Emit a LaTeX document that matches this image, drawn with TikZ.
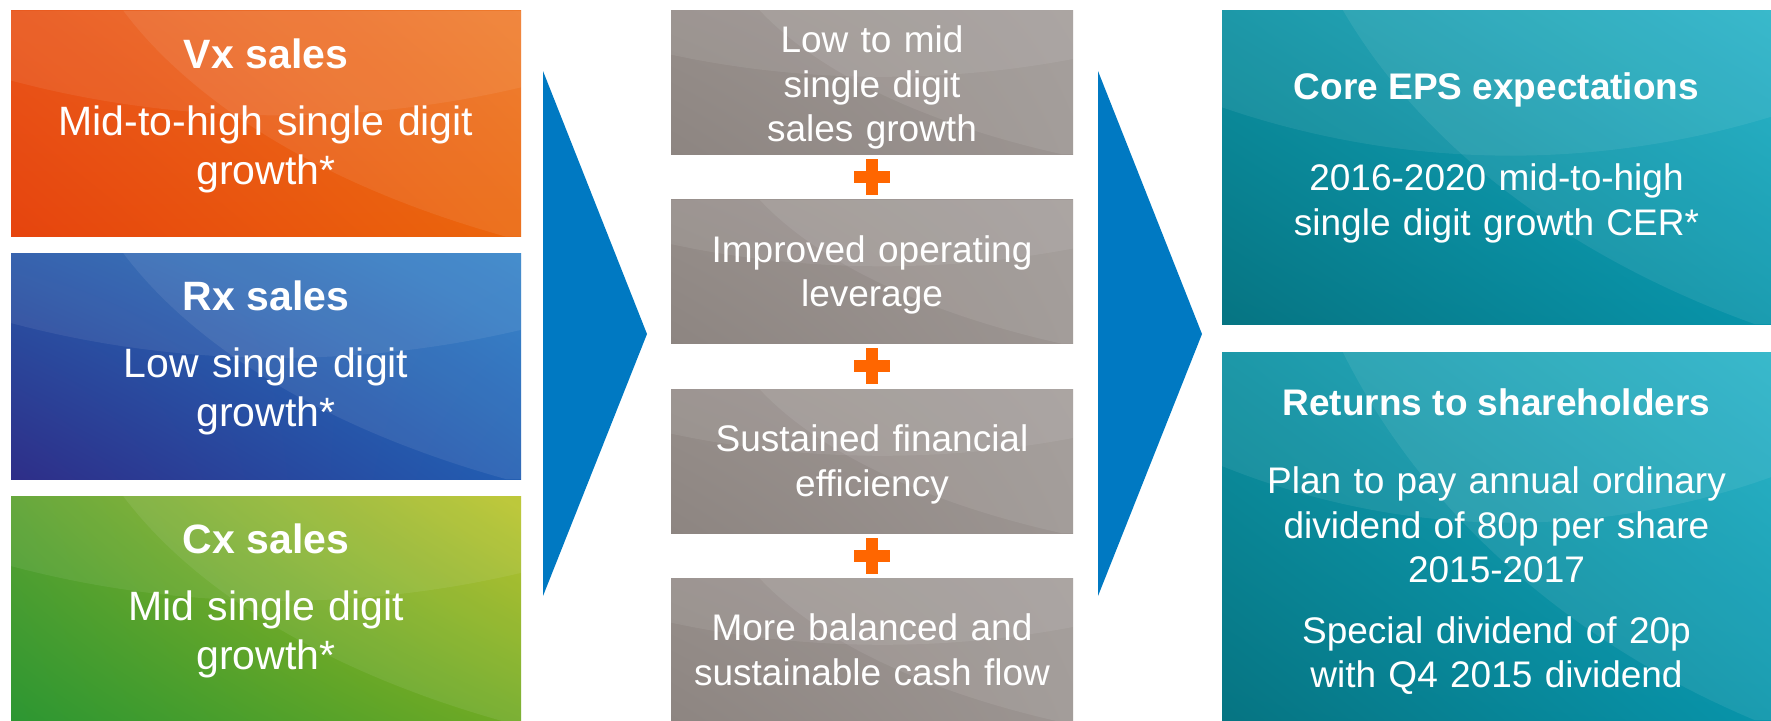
\documentclass[tikz,border=0pt]{standalone}
\usepackage{fontspec}
\setmainfont{Liberation Sans}
\definecolor{arrowblue}{RGB}{0, 121, 194}
\definecolor{plusorange}{RGB}{255, 102, 0}
\definecolor{vxul}{RGB}{233, 86, 26}
\definecolor{vxur}{RGB}{238, 116, 32}
\definecolor{vxll}{RGB}{230, 68, 14}
\definecolor{vxlr}{RGB}{235, 102, 12}
\definecolor{rxul}{RGB}{40, 88, 168}
\definecolor{rxur}{RGB}{38, 124, 198}
\definecolor{rxll}{RGB}{46, 46, 136}
\definecolor{rxlr}{RGB}{34, 94, 178}
\definecolor{cxul}{RGB}{92, 162, 48}
\definecolor{cxur}{RGB}{182, 192, 28}
\definecolor{cxll}{RGB}{44, 150, 50}
\definecolor{cxlr}{RGB}{112, 170, 36}
\definecolor{mgul}{RGB}{150, 142, 138}
\definecolor{mgur}{RGB}{158, 151, 148}
\definecolor{mgll}{RGB}{141, 133, 129}
\definecolor{mglr}{RGB}{156, 149, 146}
\definecolor{tlul}{RGB}{12, 145, 162}
\definecolor{tlur}{RGB}{24, 174, 196}
\definecolor{tlll}{RGB}{6, 116, 130}
\definecolor{tllr}{RGB}{8, 148, 170}
\usetikzlibrary{calc, shadings}
\tikzset{
    swoosh/.style={path picture={
        \fill[white, opacity=.08] let \p1 = (path picture bounding box.south west),
            \p2 = (path picture bounding box.north east),
            \n1 = {\x2 - \x1}, \n2 = {\y2 - \y1} in
            ({\x1 + .22*\n1}, \y2) .. controls ({\x1 + .36*\n1}, {\y1 + .58*\n2})
            and ({\x1 + .62*\n1}, {\y1 + .22*\n2}) .. ({\x1 + .97*\n1}, \y1)
            -- (\x2, \y1) -- (\p2) -- cycle;
        \fill[white, opacity=.07] let \p1 = (path picture bounding box.south west),
            \p2 = (path picture bounding box.north east),
            \n1 = {\x2 - \x1}, \n2 = {\y2 - \y1} in
            (\x1, {\y1 + .69*\n2}) .. controls ({\x1 + .35*\n1}, {\y1 + .48*\n2})
            and ({\x1 + .7*\n1}, {\y1 + .5*\n2}) .. (\x2, {\y1 + .66*\n2})
            -- (\p2) -- (\x1, \y2) -- cycle;
    }},
    panel/.style n args={4}{shade, inner sep=0pt, swoosh, upper left=#1,
        upper right=#2, lower left=#3, lower right=#4},
    sidepanel/.style={minimum width=255pt, minimum height=113pt},
    midpanel/.style={panel={mgul}{mgur}{mgll}{mglr}, minimum width=201pt,
        minimum height=72pt},
    endpanel/.style={panel={tlul}{tlur}{tlll}{tllr}, minimum width=274.5pt},
    headbig/.style={anchor=base, inner sep=0pt, text=white,
        font=\bfseries\fontsize{20.5}{24.5}\selectfont},
    bodybig/.style={anchor=base, inner sep=0pt, text=white, align=center,
        text width=250pt, font=\fontsize{20.5}{24.5}\selectfont},
    headsmall/.style={anchor=base, inner sep=0pt, text=white,
        font=\bfseries\fontsize{18.5}{22.25}\selectfont},
    bodysmall/.style={anchor=base, inner sep=0pt, text=white, align=center,
        text width=270pt, font=\fontsize{18.5}{22.25}\selectfont},
    bigarrow/.pic={
        \fill[arrowblue] (0, 0) -- (104, 263) -- (0, 525) -- cycle;
    },
    plussign/.pic={
        \fill[plusorange] (-18, -6) rectangle (18, 6);
        \fill[plusorange] (-6, -18) rectangle (6, 18);
    },
}

\begin{document}
\begin{tikzpicture}[x=0.5pt, y=-0.5pt]
    \useasboundingbox (0, 0) rectangle (1771, 720);
    % left column
    \node[panel={vxul}{vxur}{vxll}{vxlr}, sidepanel] (vx) at (266, 123.5) {};
    \node[panel={rxul}{rxur}{rxll}{rxlr}, sidepanel] (rx) at (266, 366) {};
    \node[panel={cxul}{cxur}{cxll}{cxlr}, sidepanel] (cx) at (266, 609) {};
    \node[headbig] (vxhead) at ([yshift=-29pt]vx.north) {Vx sales};
    \node[bodybig] (vxbody) at ([yshift=-62.5pt]vx.north)
        {Mid-to-high single digit\\growth*};
    \node[headbig] (rxhead) at ([yshift=-29pt]rx.north) {Rx sales};
    \node[bodybig] (rxbody) at ([yshift=-62.5pt]rx.north)
        {Low single digit\\growth*};
    \node[headbig] (cxhead) at ([yshift=-29pt]cx.north) {Cx sales};
    \node[bodybig] (cxbody) at ([yshift=-62.5pt]cx.north)
        {Mid single digit\\growth*};

    \pic at (543, 71) {bigarrow};

    % middle column
    \node[midpanel] (mida) at (872, 82) {};
    \node[midpanel] (midb) at (872, 271.5) {};
    \node[midpanel] (midc) at (872, 461) {};
    \node[midpanel] (midd) at (872, 650) {};
    \node[bodysmall] (midatext) at ([yshift=-21.5pt]mida.north)
        {Low to mid\\single digit\\sales growth};
    \node[bodysmall] (midbtext) at ([yshift=-31.5pt]midb.north)
        {Improved operating\\leverage};
    \node[bodysmall] (midctext) at ([yshift=-31.5pt]midc.north)
        {Sustained financial\\efficiency};
    \node[bodysmall] (middtext) at ([yshift=-31.5pt]midd.north)
        {More balanced and\\sustainable cash flow};
    \pic at ($(mida.south)!.5!(midb.north)$) {plussign};
    \pic at ($(midb.south)!.5!(midc.north)$) {plussign};
    \pic at ($(midc.south)!.5!(midd.north)$) {plussign};

    \pic at (1098, 71) {bigarrow};

    % right column
    \node[endpanel, minimum height=157pt] (eps) at (1496.5, 167) {};
    \node[endpanel, minimum height=184pt] (ret) at (1496.5, 536) {};
    \node[headsmall] (epshead) at ([yshift=-45pt]eps.north)
        {Core EPS expectations};
    \node[bodysmall] (epsbody) at ([yshift=-90.5pt]eps.north)
        {2016-2020 mid-to-high\\single digit growth CER*};
    \node[headsmall] (rethead) at ([yshift=-32pt]ret.north)
        {Returns to shareholders};
    \node[bodysmall] (retbody) at ([yshift=-71pt]ret.north)
        {Plan to pay annual ordinary\\dividend of 80p per share\\2015-2017\\[8pt]
        Special dividend of 20p\\with Q4 2015 dividend};
\end{tikzpicture}
\end{document}
